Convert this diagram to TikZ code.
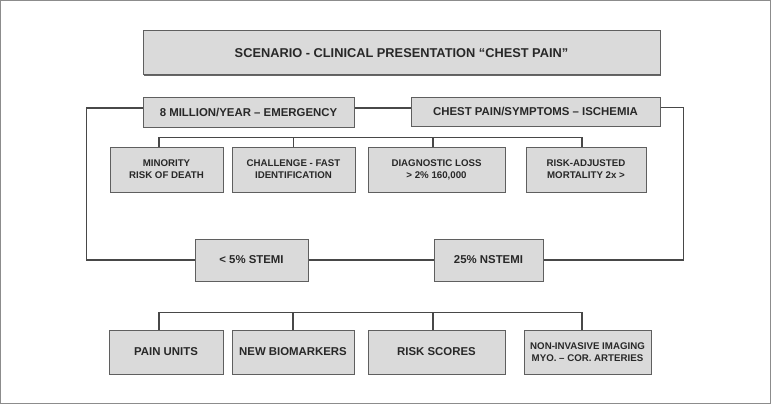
\documentclass[tikz,border=0pt]{standalone}
\usepackage{fontspec}
\setmainfont{Liberation Sans}
\usetikzlibrary{shadows}
\definecolor{panelfill}{RGB}{218,218,218}
\definecolor{paneldraw}{RGB}{95,95,95}
\definecolor{linkcol}{RGB}{72,72,72}
\definecolor{inkcol}{RGB}{40,40,40}
\tikzset{
  panel/.style={draw=paneldraw, fill=panelfill, line width=1pt, inner sep=0pt,
    align=center, text=inkcol, font=\bfseries,
    drop shadow={shadow xshift=0.7pt, shadow yshift=-0.7pt, fill=black!60, opacity=1}},
  link/.style={draw=linkcol, line width=1.3pt},
  bigtxt/.style={font=\bfseries\fontsize{12.8}{15}\selectfont},
  midtxt/.style={font=\bfseries\fontsize{11.4}{13.5}\selectfont},
  smalltxt/.style={font=\bfseries\fontsize{9.7}{12}\selectfont},
}
\begin{document}
\begin{tikzpicture}[x=1pt, y=-1pt]

\useasboundingbox (0,0) rectangle (771,404);
\draw[gray!90, line width=1pt] (0.5,0.5) rectangle (770.5,403.5);

\begin{scope}[every node/.style={panel}]
\node[bigtxt, minimum width=517pt, minimum height=44pt] (title) at (401.5,53) {SCENARIO - CLINICAL PRESENTATION “CHEST PAIN”};

\node[midtxt, minimum width=211pt, minimum height=30pt] (emerg) at (248.5,112) {8 MILLION/YEAR – EMERGENCY};
\node[midtxt, minimum width=249pt, minimum height=29pt] (ischem) at (535.5,111.5) {CHEST PAIN/SYMPTOMS – ISCHEMIA};

\node[smalltxt, minimum width=113pt, minimum height=45pt] (minority) at (166.5,169.5) {MINORITY\\RISK OF DEATH};
\node[smalltxt, minimum width=123pt, minimum height=45pt] (challenge) at (293.5,169.5) {CHALLENGE - FAST\\IDENTIFICATION};
\node[smalltxt, minimum width=137pt, minimum height=45pt] (diagloss) at (436.5,169.5) {DIAGNOSTIC LOSS\\> 2\% 160,000};
\node[smalltxt, minimum width=120pt, minimum height=45pt] (riskadj) at (586,169.5) {RISK-ADJUSTED\\MORTALITY 2x >};

\node[midtxt, minimum width=113pt, minimum height=42pt] (stemi) at (251.5,260) {< 5\% STEMI};
\node[midtxt, minimum width=109pt, minimum height=42pt] (nstemi) at (488.5,260) {25\% NSTEMI};

\node[midtxt, minimum width=114pt, minimum height=44pt] (painunits) at (166,352) {PAIN UNITS};
\node[midtxt, minimum width=122pt, minimum height=44pt] (biomark) at (293,352) {NEW BIOMARKERS};
\node[midtxt, minimum width=137pt, minimum height=44pt] (riskscores) at (436.5,352) {RISK SCORES};
\node[smalltxt, minimum width=127pt, minimum height=44pt] (imaging) at (587.5,352) {NON-INVASIVE IMAGING\\MYO. – COR. ARTERIES};
\end{scope}

\draw[link] ([yshift=4pt]emerg.east) -- ([yshift=4pt]emerg.east -| ischem.west);
\draw[link] ([yshift=4pt]emerg.west) -- ++(-56,0) |- (stemi.west);
\draw[link] ([yshift=4pt]ischem.east) -- ++(23,0) |- (nstemi.east);
\draw[link] (stemi) -- (nstemi);

\draw[link] ([xshift=-7.5pt]minority.north) -- ++(0,-9) -| ([xshift=-4pt]riskadj.north);
\draw[link] (challenge.north) -- ++(0,-9);
\draw[link] ([xshift=-3.5pt]diagloss.north) -- ++(0,-9);

\draw[link] ([xshift=-7pt]painunits.north) -- ++(0,-17) -| ([xshift=-5.5pt]imaging.north);
\draw[link] (biomark.north) -- ++(0,-17);
\draw[link] ([xshift=-3.5pt]riskscores.north) -- ++(0,-17);

\end{tikzpicture}
\end{document}
